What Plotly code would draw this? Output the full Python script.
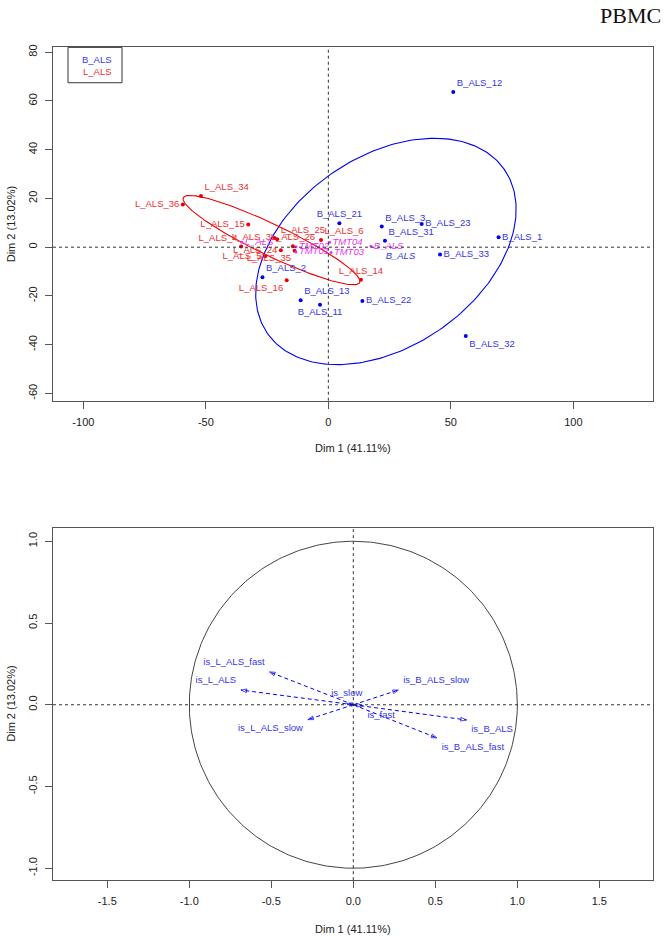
import numpy as np
import plotly.graph_objects as go

# ---------------- data: individuals (top panel) ----------------
b_names = ["B_ALS_12", "B_ALS_21", "B_ALS_3", "B_ALS_23", "B_ALS_31", "B_ALS_33",
           "B_ALS_1", "B_ALS_13", "B_ALS_11", "B_ALS_22", "B_ALS_32", "B_ALS_2"]
b_dim1 = [51.0, 4.5, 21.8, 38.1, 23.1, 45.6, 69.5, -11.3, -3.4, 13.9, 56.1, -26.9]
b_dim2 = [63.7, 9.8, 8.5, 9.5, 2.6, -3.0, 4.1, -21.8, -23.6, -22.1, -36.4, -12.3]
b_pos = ["top right", "top center", "top right", "middle right", "top right", "middle right",
         "middle right", "top right", "bottom center", "middle right", "bottom right", "top right"]

l_names = ["L_ALS_36", "L_ALS_34", "L_ALS_15", "L_ALS_4", "L_ALS_3", "L_ALS_25", "L_ALS_26",
           "L_ALS_24", "L_ALS_35", "L_ALS_5", "L_ALS_6", "L_ALS_16", "L_ALS_14"]
l_dim1 = [-59.4, -52.0, -32.7, -35.6, -22.0, -20.9, -14.5, -19.4, -13.8, -25.8, -3.0, -17.0, 13.3]
l_dim2 = [17.5, 21.0, 9.3, 0.3, 3.8, 3.3, 0.4, -1.3, -1.5, -3.7, 3.0, -13.6, -13.4]
l_pos = ["middle left", "top right", "middle left", "top left", "middle left", "top right", "top center",
         "middle left", "bottom left", "middle left", "top right", "bottom left", "top center"]

# supplementary categories
sup_names = ["L_ALS", "TMT02", "TMT01", "TMT04", "TMT03", "B_ALS"]
sup_dim1 = [-35.3, -13.2, -13.2, 0.5, 1.1, 17.4]
sup_dim2 = [2.0, 0.2, -2.0, 2.0, -2.2, 0.4]
grp_names = ["B_ALS"]
grp_dim1 = [23.4]
grp_dim2 = [-1.8]

# confidence ellipses: centre, semi-axes, angle (deg)
ell_blue = dict(cx=23.5, cy=-1.75, a=58.9, b=38.9, ang=35.0)
ell_red = dict(cx=-23.2, cy=2.9, a=40.0, b=6.4, ang=-25.8)

# ---------------- data: variables (bottom panel) ----------------
v_names = ["is_B_ALS_slow", "is_B_ALS", "is_B_ALS_fast", "is_L_ALS_fast",
           "is_L_ALS", "is_L_ALS_slow", "is_slow", "is_fast"]
v_dim1 = [0.275, 0.69, 0.51, -0.512, -0.685, -0.278, -0.04, 0.057]
v_dim2 = [0.09, -0.093, -0.203, 0.201, 0.09, -0.091, 0.008, -0.006]
v_pos = ["top right", "bottom right", "bottom right", "top left",
         "top left", "bottom left", "top center", "bottom right"]

top_xticks = [-100, -50, 0, 50, 100]
top_xlabels = ["-100", "-50", "0", "50", "100"]
top_yticks = [-60, -40, -20, 0, 20, 40, 60, 80]
top_ylabels = ["-60", "-40", "-20", "0", "20", "40", "60", "80"]
bot_xticks = [-1.5, -1.0, -0.5, 0.0, 0.5, 1.0, 1.5]
bot_xlabels = ["-1.5", "-1.0", "-0.5", "0.0", "0.5", "1.0", "1.5"]
bot_yticks = [-1.0, -0.5, 0.0, 0.5, 1.0]
bot_ylabels = ["-1.0", "-0.5", "0.0", "0.5", "1.0"]

W, H = 664, 937
FONT = "Liberation Sans, Arial, sans-serif"
BLUE = "#0000ee"
BLUE_T = "#3535e8"
RED = "#ee0000"
RED_T = "#ee3030"
MAG = "#ee33ee"
FRAME = "#555555"


def ellipse(p, n=240):
    t = np.linspace(0, 2 * np.pi, n)
    th = np.deg2rad(p["ang"])
    x = p["cx"] + p["a"] * np.cos(t) * np.cos(th) - p["b"] * np.sin(t) * np.sin(th)
    y = p["cy"] + p["a"] * np.cos(t) * np.sin(th) + p["b"] * np.sin(t) * np.cos(th)
    return x, y


fig = go.Figure()

# ellipses
for p, col in [(ell_blue, BLUE), (ell_red, RED)]:
    ex, ey = ellipse(p)
    fig.add_trace(go.Scatter(x=ex, y=ey, mode="lines", line=dict(color=col, width=1.1),
                             hoverinfo="skip", showlegend=False, xaxis="x", yaxis="y"))

# points
fig.add_trace(go.Scatter(x=b_dim1, y=b_dim2, mode="markers+text", text=b_names, textposition=b_pos,
                         marker=dict(color=BLUE, size=4), textfont=dict(family=FONT, size=9.5, color=BLUE_T),
                         showlegend=False, xaxis="x", yaxis="y"))
fig.add_trace(go.Scatter(x=l_dim1, y=l_dim2, mode="markers+text", text=l_names, textposition=l_pos,
                         marker=dict(color=RED, size=4), textfont=dict(family=FONT, size=9.5, color=RED_T),
                         showlegend=False, xaxis="x", yaxis="y"))
fig.add_trace(go.Scatter(x=sup_dim1, y=sup_dim2, mode="markers+text",
                         text=["<i>%s</i>" % s for s in sup_names],
                         textposition="middle right",
                         marker=dict(color=MAG, size=3), textfont=dict(family=FONT, size=9.5, color=MAG),
                         showlegend=False, xaxis="x", yaxis="y"))
fig.add_trace(go.Scatter(x=grp_dim1, y=grp_dim2, mode="text", text=["<i>%s</i>" % s for s in grp_names],
                         textposition="bottom right",
                         textfont=dict(family=FONT, size=9.5, color=BLUE_T),
                         showlegend=False, xaxis="x", yaxis="y"))

# correlation circle
ct = np.linspace(0, 2 * np.pi, 361)
fig.add_trace(go.Scatter(x=np.cos(ct), y=np.sin(ct), mode="lines", line=dict(color="#444444", width=1),
                         hoverinfo="skip", showlegend=False, xaxis="x2", yaxis="y2"))

# variable arrows
for nm, vx, vy, pos in zip(v_names, v_dim1, v_dim2, v_pos):
    fig.add_trace(go.Scatter(
        x=[0, vx], y=[0, vy], mode="lines+markers+text", text=["", nm], textposition=pos,
        line=dict(color=BLUE, width=1, dash="4px,3px"),
        marker=dict(symbol="arrow-open", angleref="previous", size=[0, 6], color=BLUE,
                    line=dict(color=BLUE, width=1)),
        textfont=dict(family=FONT, size=9.5, color=BLUE_T),
        showlegend=False, xaxis="x2", yaxis="y2"))

dom_x = [53 / W, 653.3 / W]
dom_y1 = [1 - 399 / H, 1 - 44.5 / H]
dom_y2 = [1 - 880 / H, 1 - 526.7 / H]

axis_common = dict(showgrid=False, zeroline=False, showline=True, mirror=True, linecolor=FRAME,
                   linewidth=1, ticks="outside", ticklen=7, tickcolor=FRAME, tickwidth=1,
                   tickfont=dict(family=FONT, size=11, color="#222222"), ticklabelstandoff=4)

fig.update_layout(
    width=W, height=H, margin=dict(l=0, r=0, t=0, b=0),
    paper_bgcolor="white", plot_bgcolor="white",
    xaxis=dict(domain=dom_x, anchor="y", range=[-112.4, 132.65], tickvals=top_xticks,
               ticktext=top_xlabels, **axis_common),
    yaxis=dict(domain=dom_y1, anchor="x", range=[-63.0, 82.0], tickvals=top_yticks,
               ticktext=top_ylabels, tickangle=-90, **axis_common),
    xaxis2=dict(domain=dom_x, anchor="y2", range=[-1.831, 1.829], tickvals=bot_xticks,
                ticktext=bot_xlabels, **axis_common),
    yaxis2=dict(domain=dom_y2, anchor="x2", range=[-1.073, 1.081], tickvals=bot_yticks,
                ticktext=bot_ylabels, tickangle=-90, **axis_common),
)

dash_line = dict(color="#333333", width=1, dash="3px,3px")
shapes = []
for xr, yr in [("x", "y"), ("x2", "y2")]:
    shapes.append(dict(type="line", xref=xr, yref=yr + " domain", x0=0, x1=0, y0=0, y1=1, line=dash_line))
    shapes.append(dict(type="line", xref=xr + " domain", yref=yr, x0=0, x1=1, y0=0, y1=0, line=dash_line))
# legend box
shapes.append(dict(type="rect", xref="paper", yref="paper", x0=68 / W, x1=122 / W,
                   y0=1 - 80 / H, y1=1 - 44.5 / H, line=dict(color="#333333", width=1),
                   fillcolor="white"))
fig.update_layout(shapes=shapes)

ann = []
# legend text
ann.append(dict(text="B_ALS", x=97 / W, y=1 - 57 / H, xref="paper", yref="paper", showarrow=False,
                font=dict(family=FONT, size=9.5, color=BLUE_T), xanchor="center", yanchor="middle"))
ann.append(dict(text="L_ALS", x=97 / W, y=1 - 69 / H, xref="paper", yref="paper", showarrow=False,
                font=dict(family=FONT, size=9.5, color=RED_T), xanchor="center", yanchor="middle"))
# title
ann.append(dict(text="PBMC", x=663 / W, y=1 + 2 / H, xref="paper", yref="paper", showarrow=False,
                font=dict(family="Liberation Serif, Times New Roman, serif", size=22, color="#111111"),
                xanchor="right", yanchor="top"))
# axis titles
for ycen, xcen in [(446, 353), (929, 353)]:
    ann.append(dict(text="Dim 1 (41.11%)", x=xcen / W, y=1 - ycen / H, xref="paper", yref="paper",
                    showarrow=False, font=dict(family=FONT, size=11, color="#222222"),
                    xanchor="center", yanchor="middle"))
for ycen in [222, 703]:
    ann.append(dict(text="Dim 2 (13.02%)", x=11 / W, y=1 - ycen / H, xref="paper", yref="paper",
                    showarrow=False, textangle=-90, font=dict(family=FONT, size=11, color="#222222"),
                    xanchor="center", yanchor="middle"))
fig.update_layout(annotations=ann)

# remove the browser's default 8px page margin so the figure fills the window exactly
fig.write_html("out.html", config={"displayModeBar": False},
               post_script="document.body.style.margin='0';document.body.style.overflow='hidden';")
